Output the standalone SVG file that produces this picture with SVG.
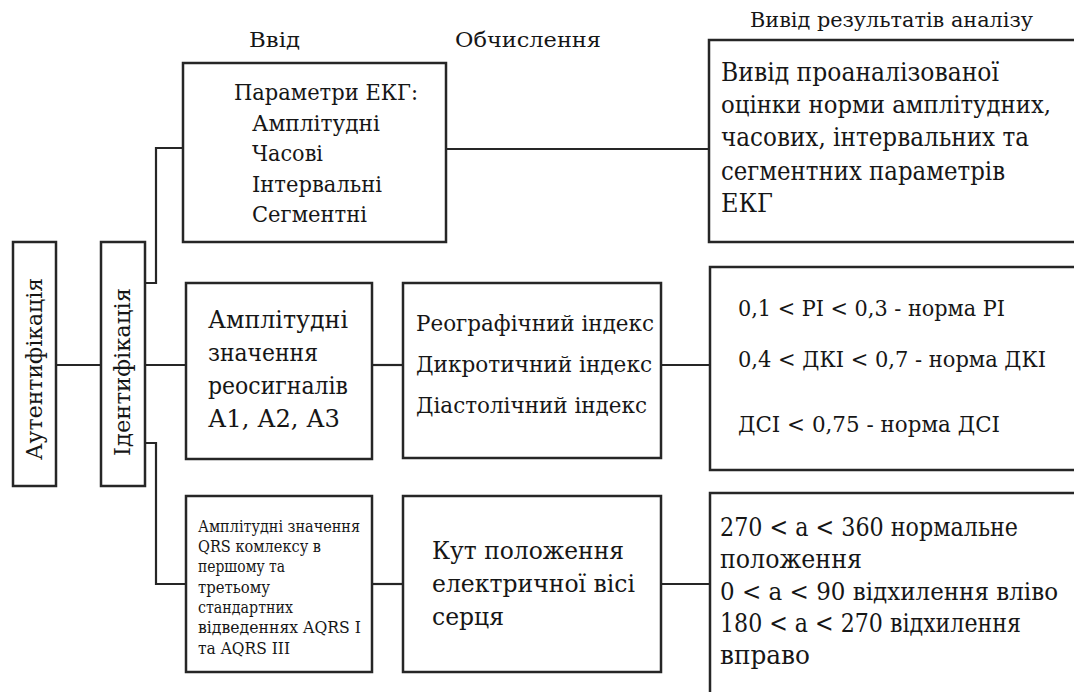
<svg xmlns="http://www.w3.org/2000/svg" width="1074" height="692" viewBox="0 0 1074 692">
<style>
text{font-family:"DejaVu Serif","Liberation Serif",serif;fill:#161616;}
.box{fill:#fff;stroke:#262626;stroke-width:2.5;}
.open{fill:none;stroke:#262626;stroke-width:2.5;}
.ln{fill:none;stroke:#262626;stroke-width:2.2;}
.hdr{font-size:21px;}
.f26{font-size:23px;}
.f28{font-size:25px;}
.f29{font-size:26px;}
.fw{font-size:23.5px;}
.f18{font-size:16px;}
.v{font-size:22px;}
</style>
<rect width="1074" height="692" fill="#fff"/>
<g id="headers">
<text class="hdr" x="249" y="47" textLength="51" lengthAdjust="spacingAndGlyphs">Ввід</text>
<text class="hdr" x="455" y="47" textLength="146" lengthAdjust="spacingAndGlyphs">Обчислення</text>
<text class="hdr" x="750" y="27" textLength="283" lengthAdjust="spacingAndGlyphs">Вивід результатів аналізу</text>
</g>
<g id="connectors">
<path class="ln" d="M56,365 H101"/>
<path class="ln" d="M145,365 H186"/>
<path class="ln" d="M145,283 H156 V148 H183"/>
<path class="ln" d="M145,443 H156 V584 H186"/>
<path class="ln" d="M446,149 H709"/>
<path class="ln" d="M372,365 H403"/>
<path class="ln" d="M661,365 H710"/>
<path class="ln" d="M372,584 H403"/>
<path class="ln" d="M661,584 H710"/>
</g>
<g id="aut">
<rect class="box" x="13" y="242" width="43" height="244"/>
<text class="v" text-anchor="middle" transform="translate(42,369) rotate(-90)" textLength="182" lengthAdjust="spacingAndGlyphs">Аутентифікація</text>
</g>
<g id="ident">
<rect class="box" x="101" y="242" width="44" height="244"/>
<text class="v" text-anchor="middle" transform="translate(130,372) rotate(-90)" textLength="168" lengthAdjust="spacingAndGlyphs">Ідентифікація</text>
</g>
<g id="params">
<rect class="box" x="183" y="63" width="263" height="179"/>
<text class="f26" x="234" y="100" textLength="184" lengthAdjust="spacingAndGlyphs">Параметри ЕКГ:</text>
<text class="f26" x="252" y="131" textLength="128" lengthAdjust="spacingAndGlyphs">Амплітудні</text>
<text class="f26" x="252" y="161" textLength="71" lengthAdjust="spacingAndGlyphs">Часові</text>
<text class="f26" x="252" y="192" textLength="130" lengthAdjust="spacingAndGlyphs">Інтервальні</text>
<text class="f26" x="252" y="222" textLength="115" lengthAdjust="spacingAndGlyphs">Сегментні</text>
</g>
<g id="result1">
<path class="open" d="M1074,40 H709 V242 H1074"/>
<text class="f29" x="721" y="81" textLength="278" lengthAdjust="spacingAndGlyphs">Вивід проаналізованої</text>
<text class="fw" x="721" y="113" textLength="330" lengthAdjust="spacingAndGlyphs">оцінки норми амплітудних,</text>
<text class="f29" x="721" y="146" textLength="308" lengthAdjust="spacingAndGlyphs">часових, інтервальних та</text>
<text class="f29" x="721" y="180" textLength="284" lengthAdjust="spacingAndGlyphs">сегментних параметрів</text>
<text class="f29" x="721" y="212" textLength="52" lengthAdjust="spacingAndGlyphs">ЕКГ</text>
</g>
<g id="ampl">
<rect class="box" x="186" y="283" width="186" height="176"/>
<text class="f28" x="208" y="328" textLength="140" lengthAdjust="spacingAndGlyphs">Амплітудні</text>
<text class="f28" x="208" y="361" textLength="110" lengthAdjust="spacingAndGlyphs">значення</text>
<text class="f28" x="208" y="394" textLength="140" lengthAdjust="spacingAndGlyphs">реосигналів</text>
<text class="f28" x="208" y="427" textLength="132" lengthAdjust="spacingAndGlyphs">А1, А2, А3</text>
</g>
<g id="calc">
<rect class="box" x="403" y="283" width="258" height="175"/>
<text class="f26" x="416" y="331" textLength="238" lengthAdjust="spacingAndGlyphs">Реографічний індекс</text>
<text class="f26" x="416" y="372" textLength="236" lengthAdjust="spacingAndGlyphs">Дикротичний індекс</text>
<text class="f26" x="416" y="413" textLength="231" lengthAdjust="spacingAndGlyphs">Діастолічний індекс</text>
</g>
<g id="result2">
<path class="open" d="M1074,267 H710 V470 H1074"/>
<text class="f26" x="738" y="316" textLength="267" lengthAdjust="spacingAndGlyphs">0,1 &lt; PI &lt; 0,3 - норма PI</text>
<text class="f26" x="738" y="367" textLength="308" lengthAdjust="spacingAndGlyphs">0,4 &lt; ДКІ &lt; 0,7 - норма ДКІ</text>
<text class="f26" x="738" y="432" textLength="262" lengthAdjust="spacingAndGlyphs">ДСІ &lt; 0,75 - норма ДСІ</text>
</g>
<g id="qrs">
<rect class="box" x="186" y="496" width="186" height="176"/>
<text class="f18" x="198" y="532" textLength="162" lengthAdjust="spacingAndGlyphs">Амплітудні значення</text>
<text class="f18" x="198" y="552" textLength="123" lengthAdjust="spacingAndGlyphs">QRS комлексу в</text>
<text class="f18" x="198" y="572" textLength="87" lengthAdjust="spacingAndGlyphs">першому та</text>
<text class="f18" x="198" y="593" textLength="72" lengthAdjust="spacingAndGlyphs">третьому</text>
<text class="f18" x="198" y="613" textLength="95" lengthAdjust="spacingAndGlyphs">стандартних</text>
<text class="f18" x="198" y="633" textLength="163" lengthAdjust="spacingAndGlyphs">відведеннях AQRS I</text>
<text class="f18" x="198" y="654" textLength="92" lengthAdjust="spacingAndGlyphs">та AQRS III</text>
</g>
<g id="kut">
<rect class="box" x="403" y="496" width="258" height="176"/>
<text class="f28" x="432" y="559" textLength="192" lengthAdjust="spacingAndGlyphs">Кут положення</text>
<text class="f28" x="432" y="592" textLength="203" lengthAdjust="spacingAndGlyphs">електричної вісі</text>
<text class="f28" x="432" y="625" textLength="72" lengthAdjust="spacingAndGlyphs">серця</text>
</g>
<g id="result3">
<path class="open" d="M1074,493 H710 V692"/>
<text class="f29" x="720" y="536" textLength="298" lengthAdjust="spacingAndGlyphs">270 &lt; а &lt; 360 нормальне</text>
<text class="f29" x="720" y="568" textLength="142" lengthAdjust="spacingAndGlyphs">положення</text>
<text class="fw" x="720" y="600" textLength="338" lengthAdjust="spacingAndGlyphs">0 &lt; а &lt; 90 відхилення вліво</text>
<text class="f29" x="720" y="632" textLength="301" lengthAdjust="spacingAndGlyphs">180 &lt; а &lt; 270 відхилення</text>
<text class="f29" x="720" y="664" textLength="90" lengthAdjust="spacingAndGlyphs">вправо</text>
</g>
</svg>
